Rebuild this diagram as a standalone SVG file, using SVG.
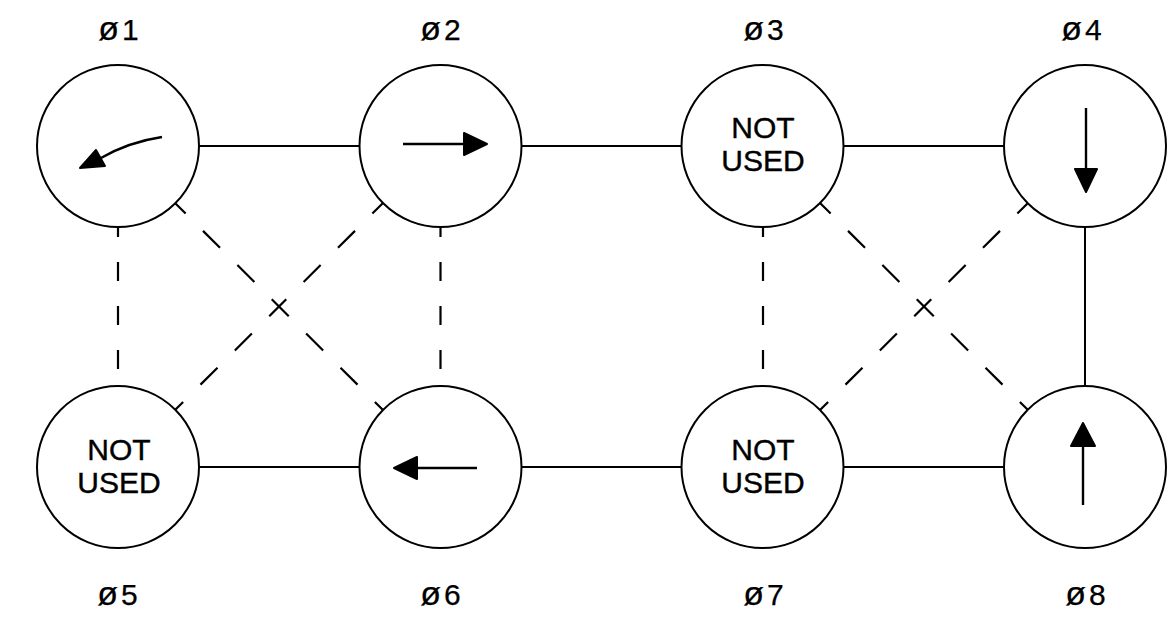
<svg xmlns="http://www.w3.org/2000/svg" width="1176" height="624" viewBox="0 0 1176 624">
<style>
.c{fill:#fff;stroke:#000;stroke-width:2}
.s{stroke:#000;stroke-width:2;fill:none}
.dv{stroke:#000;stroke-width:2.2;fill:none;stroke-dasharray:19 25;stroke-dashoffset:9}
.dd{stroke:#000;stroke-width:2.2;fill:none;stroke-dasharray:24 24.5;stroke-dashoffset:9}
.a{stroke:#000;stroke-width:2.4;fill:none}
.h{fill:#000;stroke:#000;stroke-width:2;stroke-linejoin:round}
.t{font-family:"Liberation Sans",Arial,sans-serif;font-size:30px;fill:#000;stroke:#000;stroke-width:0.4px;text-anchor:middle}
.l{font-family:"Liberation Sans",Arial,sans-serif;font-size:30px;fill:#000;stroke:#000;stroke-width:0.25px;text-anchor:middle;letter-spacing:3px}
.o{font-size:34px}
</style>
<rect width="1176" height="624" fill="#fff"/>
<g id="connectors">
<line class="s" x1="198" y1="146" x2="360" y2="146"/>
<line class="s" x1="521" y1="146" x2="682" y2="146"/>
<line class="s" x1="843" y1="146" x2="1004" y2="146"/>
<line class="s" x1="198" y1="467" x2="360" y2="467"/>
<line class="s" x1="521" y1="467" x2="682" y2="467"/>
<line class="s" x1="843" y1="467" x2="1004" y2="467"/>
<line class="s" x1="1085" y1="227" x2="1085" y2="386"/>
<line class="dv" x1="118" y1="227" x2="118" y2="386"/>
<line class="dv" x1="440.5" y1="227" x2="440.5" y2="386"/>
<line class="dv" x1="763" y1="227" x2="763" y2="386"/>
<line class="dd" x1="175" y1="203" x2="383" y2="410"/>
<line class="dd" x1="383" y1="203" x2="175" y2="410"/>
<line class="dd" x1="820" y1="203" x2="1028" y2="410"/>
<line class="dd" x1="1028" y1="203" x2="820" y2="410"/>
</g>
<g id="n1">
<circle class="c" cx="118" cy="146" r="81"/>
<path class="a" d="M162,137 Q128,142 99,159"/>
<polygon class="h" points="80,168 96,150 105,166"/>
<text class="l" x="120" y="40"><tspan class="o">ø</tspan>1</text>
</g>
<g id="n2">
<circle class="c" cx="440.5" cy="146" r="81"/>
<line class="a" x1="403" y1="144" x2="466" y2="144"/>
<polygon class="h" points="487,144 464,133 464,155"/>
<text class="l" x="442" y="40"><tspan class="o">ø</tspan>2</text>
</g>
<g id="n3">
<circle class="c" cx="762.5" cy="146" r="81"/>
<text class="t" x="763" y="138">NOT</text>
<text class="t" x="763" y="171">USED</text>
<text class="l" x="765" y="40"><tspan class="o">ø</tspan>3</text>
</g>
<g id="n4">
<circle class="c" cx="1085" cy="146" r="81"/>
<line class="a" x1="1086" y1="108" x2="1086" y2="171"/>
<polygon class="h" points="1086,192 1075,169 1097,169"/>
<text class="l" x="1083" y="40"><tspan class="o">ø</tspan>4</text>
</g>
<g id="n5">
<circle class="c" cx="118" cy="467" r="81"/>
<text class="t" x="119" y="460">NOT</text>
<text class="t" x="119" y="493">USED</text>
<text class="l" x="119" y="605"><tspan class="o">ø</tspan>5</text>
</g>
<g id="n6">
<circle class="c" cx="440.5" cy="467" r="81"/>
<line class="a" x1="477" y1="468" x2="415" y2="468"/>
<polygon class="h" points="394,468 417,457 417,479"/>
<text class="l" x="442" y="605"><tspan class="o">ø</tspan>6</text>
</g>
<g id="n7">
<circle class="c" cx="762.5" cy="467" r="81"/>
<text class="t" x="763" y="460">NOT</text>
<text class="t" x="763" y="493">USED</text>
<text class="l" x="765" y="605"><tspan class="o">ø</tspan>7</text>
</g>
<g id="n8">
<circle class="c" cx="1085" cy="467" r="81"/>
<line class="a" x1="1083" y1="505" x2="1083" y2="444"/>
<polygon class="h" points="1083,423 1071,446 1095,446"/>
<text class="l" x="1087" y="605"><tspan class="o">ø</tspan>8</text>
</g>
</svg>
